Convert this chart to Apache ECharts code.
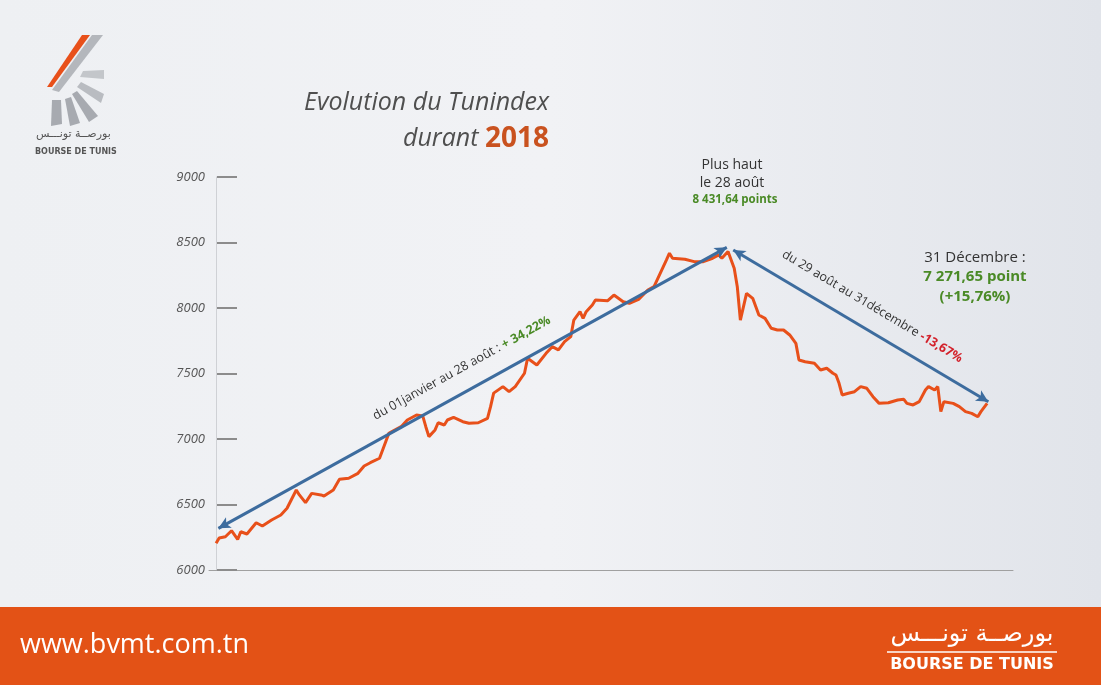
<!DOCTYPE html>
<html lang="fr">
<head>
<meta charset="UTF-8">
<title>Evolution du Tunindex durant 2018</title>
<script src="https://cdn.jsdelivr.net/npm/echarts@6/dist/echarts.min.js"></script>
<style>
  html, body { margin: 0; padding: 0; }
  #chart { width: 1101px; height: 685px; }
</style>
</head>
<body>
<div id="chart"></div>
<script>
// séances de bourse (index) et valeurs du Tunindex
var seances = [0,1,3,5,7,8,10,13,15,18,21,23,26,27,29,31,34,35,38,40,43,46,48,50,53,55,56,60,62,65,67,68,69,71,72,74,75,77,80,82,85,88,89,90,93,95,97,100,101,104,107,109,111,113,115,116,118,119,120,122,123,127,129,132,134,137,140,142,144,146,147,148,152,155,158,161,163,164,166,168,169,170,172,174,176,178,180,182,184,186,188,189,191,194,196,198,200,201,202,203,205,207,209,211,213,215,218,221,223,224,226,228,230,231,233,234,235,236,239,241,243,245,247,248,250];
var tunindex = [6204,6244,6254,6300,6234,6292,6275,6361,6336,6382,6420,6471,6611,6573,6514,6585,6573,6565,6611,6692,6700,6738,6794,6819,6853,6979,7043,7094,7145,7183,7176,7094,7018,7069,7124,7107,7145,7165,7132,7120,7124,7158,7247,7350,7400,7361,7400,7502,7616,7565,7654,7705,7680,7743,7781,7908,7972,7921,7972,8023,8061,8056,8099,8048,8036,8066,8137,8163,8265,8366,8418,8380,8372,8354,8354,8380,8405,8380,8431,8303,8163,7908,8112,8074,7947,7921,7845,7832,7832,7794,7730,7603,7590,7578,7527,7540,7502,7489,7425,7336,7349,7361,7400,7387,7323,7272,7277,7298,7303,7272,7260,7285,7374,7400,7374,7400,7209,7285,7272,7247,7209,7196,7170,7209,7272];

var yTicks = [6000, 6500, 7000, 7500, 8000, 8500, 9000];

// flèches de tendance (début / fin, en coordonnées de données)
var flecheHausse = [[0.75, 6318], [165.6, 8463]];
var flecheBaisse = [[167.7, 8443], [250.4, 7285]];

var ORANGE = '#e8501a';
var BLEU = '#3d6c9e';
var VERT = '#4a8a26';
var ROUGE = '#d3212b';

var serie = [];
for (var i = 0; i < seances.length; i++) serie.push([seances[i], tunindex[i]]);

var chart = echarts.init(document.getElementById('chart'));

chart.setOption({
  backgroundColor: {
    type: 'linear', x: 0, y: 0, x2: 1, y2: 0,
    colorStops: [
      { offset: 0, color: '#eef0f3' },
      { offset: 0.5, color: '#f1f2f5' },
      { offset: 1, color: '#e1e4ea' }
    ]
  },
  animation: false,
  textStyle: { fontFamily: 'Open Sans' },
  grid: { left: 209, right: 88, top: 177, bottom: 115, containLabel: false },
  xAxis: {
    type: 'value', min: -2.3, max: 258.4,
    axisLine: { show: true, lineStyle: { color: '#a0a0a0', width: 1 } },
    axisTick: { show: false }, axisLabel: { show: false }, splitLine: { show: false }
  },
  yAxis: [{
    type: 'value', min: yTicks[0], max: yTicks[yTicks.length - 1], interval: 500,
    axisLine: { show: true, lineStyle: { color: '#cfd1d5', width: 1 } },
    axisTick: { show: false },
    splitLine: { show: false },
    axisLabel: {
      margin: 4, color: '#555', fontSize: 13, fontStyle: 'italic',
      fontFamily: 'Open Sans',
      formatter: function (v) { return String(v); }
    }
  }, {
    type: 'value', min: yTicks[0], max: yTicks[yTicks.length - 1], interval: 500,
    position: 'left', offset: -8,
    axisLine: { show: false },
    axisTick: { show: true, inside: true, length: 20, lineStyle: { color: '#8c8c8c', width: 2 } },
    axisLabel: { show: false },
    splitLine: { show: false }
  }],
  series: [{
    type: 'line',
    data: serie,
    showSymbol: false,
    lineStyle: { color: ORANGE, width: 3 },
    z: 3,
    markLine: {
      silent: true,
      symbol: ['arrow', 'arrow'],
      symbolSize: [9, 12],
      lineStyle: { color: BLEU, width: 3, type: 'solid' },
      data: [
        [{
          coord: flecheHausse[0],
          label: {
            show: true, position: 'middle', distance: 16,
            formatter: '{a|du 01janvier au 28 août : }{b|+ 34,22%}',
            rich: {
              a: { fontSize: 12.5, color: '#333', fontFamily: 'Open Sans' },
              b: { fontSize: 12.5, color: VERT, fontWeight: 'bold', fontFamily: 'Open Sans' }
            }
          }
        }, { coord: flecheHausse[1] }],
        [{
          coord: flecheBaisse[0],
          label: {
            show: true, position: 'middle', distance: 16,
            formatter: '{a|du 29 août au 31décembre }{b|-13,67%}',
            rich: {
              a: { fontSize: 12.5, color: '#333', fontFamily: 'Open Sans' },
              b: { fontSize: 12.5, color: ROUGE, fontWeight: 'bold', fontFamily: 'Open Sans' }
            }
          }
        }, { coord: flecheBaisse[1] }]
      ]
    }
  }],
  graphic: [
    // logo en haut à gauche
    { type: 'polygon', shape: { points: [[52,90],[59,92],[103,35],[92,35]] }, style: { fill: '#b4b7bc' } },
    { type: 'polygon', shape: { points: [[47,87],[52,87],[90,35],[82,35]] }, style: { fill: ORANGE } },
    { type: 'polygon', shape: { points: [[52,100],[61,100],[62,124],[51,126]] }, style: { fill: '#a7aab0' } },
    { type: 'polygon', shape: { points: [[65,99],[71,97],[80,123],[70,126]] }, style: { fill: '#a7aab0' } },
    { type: 'polygon', shape: { points: [[72,94],[77,91],[98,116],[89,122]] }, style: { fill: '#a7aab0' } },
    { type: 'polygon', shape: { points: [[77,87],[81,82],[104,94],[101,103]] }, style: { fill: '#b9bcc1' } },
    { type: 'polygon', shape: { points: [[80,77],[83,71],[104,70],[104,79]] }, style: { fill: '#c3c6ca' } },
    { type: 'text', left: 36, top: 129, style: { text: 'بورصــة تونـــس', fontSize: 11, fill: '#555', fontFamily: 'DejaVu Sans' } },
    { type: 'text', left: 35, top: 148, style: { text: 'BOURSE DE TUNIS', fontSize: 8, fontWeight: 'bold', fill: '#555', fontFamily: 'DejaVu Sans' } },

    // titre
    { type: 'text', x: 549, y: 103, style: { text: 'Evolution du Tunindex', align: 'right', verticalAlign: 'middle', fontSize: 25, fontStyle: 'italic', fill: '#4f4f4f', fontFamily: 'Open Sans' } },
    { type: 'text', x: 549, y: 139, style: {
        text: '{a|durant }{b|2018}', align: 'right', verticalAlign: 'middle',
        rich: {
          a: { fontSize: 25, fontStyle: 'italic', fill: '#4f4f4f', fontFamily: 'Open Sans' },
          b: { fontSize: 28, fontWeight: 'bold', fill: '#c9521f', fontFamily: 'Open Sans' }
        }
    } },

    // plus haut
    { type: 'text', x: 732, y: 165, style: { text: 'Plus haut', align: 'center', verticalAlign: 'middle', fontSize: 14, fill: '#333', fontFamily: 'Open Sans' } },
    { type: 'text', x: 732, y: 183, style: { text: 'le 28 août', align: 'center', verticalAlign: 'middle', fontSize: 14, fill: '#333', fontFamily: 'Open Sans' } },
    { type: 'text', x: 735, y: 200, style: { text: '8 431,64 points', align: 'center', verticalAlign: 'middle', fontSize: 11.5, fontWeight: 'bold', fill: VERT, fontFamily: 'Open Sans' } },

    // fin d'année
    { type: 'text', x: 975, y: 258, style: { text: '31 Décembre :', align: 'center', verticalAlign: 'middle', fontSize: 15, fill: '#333', fontFamily: 'Open Sans' } },
    { type: 'text', x: 975, y: 277, style: { text: '7 271,65 point', align: 'center', verticalAlign: 'middle', fontSize: 15, fontWeight: 'bold', fill: VERT, fontFamily: 'Open Sans' } },
    { type: 'text', x: 975, y: 297, style: { text: '(+15,76%)', align: 'center', verticalAlign: 'middle', fontSize: 15, fontWeight: 'bold', fill: VERT, fontFamily: 'Open Sans' } },

    // bandeau du bas
    { type: 'rect', shape: { x: 0, y: 607, width: 1101, height: 78 }, style: { fill: '#e35216' } },
    { type: 'text', x: 20, y: 645, style: { text: 'www.bvmt.com.tn', align: 'left', verticalAlign: 'middle', fontSize: 27, fill: '#fff', fontFamily: 'Open Sans' } },
    { type: 'text', x: 972, y: 635, style: { text: 'بورصــة تونـــس', align: 'center', verticalAlign: 'middle', fontSize: 24, fill: '#fff', fontFamily: 'DejaVu Sans' } },
    { type: 'line', shape: { x1: 887, y1: 652, x2: 1057, y2: 652 }, style: { stroke: '#fff', lineWidth: 1.5 } },
    { type: 'text', x: 972, y: 665, style: { text: 'BOURSE DE TUNIS', align: 'center', verticalAlign: 'middle', fontSize: 16, fontWeight: 'bold', fill: '#fff', fontFamily: 'DejaVu Sans' } }
  ]
});
</script>
</body>
</html>
